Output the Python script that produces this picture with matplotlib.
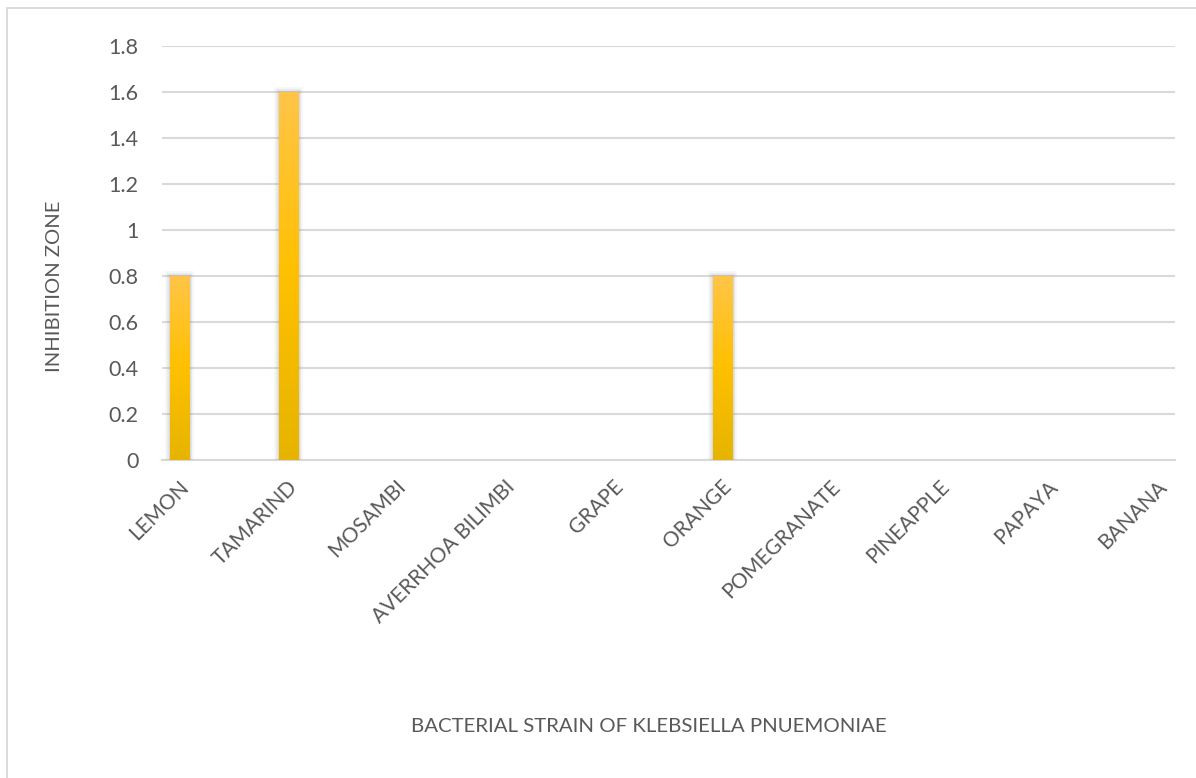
import numpy as np
import matplotlib
matplotlib.use("Agg")
import matplotlib.pyplot as plt
import matplotlib.patheffects as pe
import matplotlib.transforms as mtransforms
from matplotlib.patches import Rectangle

# Inhibition zone per fruit extract
fruits = ["LEMON", "TAMARIND", "MOSAMBI", "AVERRHOA BILIMBI", "GRAPE",
          "ORANGE", "POMEGRANATE", "PINEAPPLE", "PAPAYA", "BANANA"]
inhibition = [0.8, 1.6, 0, 0, 0, 0.8, 0, 0, 0, 0]
y_ticks = [0, 0.2, 0.4, 0.6, 0.8, 1, 1.2, 1.4, 1.6, 1.8]
y_tick_labels = ["0", "0.2", "0.4", "0.6", "0.8", "1", "1.2", "1.4", "1.6", "1.8"]

TEXT = "#595959"
GRID = "#D9D9D9"
plt.rcParams["font.family"] = ["Lato", "DejaVu Sans"]

W, H = 1196, 778
fig = plt.figure(figsize=(W / 100, H / 100), dpi=100)
fig.patch.set_facecolor("white")

# outer chart frame
fig.patches.append(Rectangle((7 / W, -0.1), 1.2, 1 - 8 / H + 0.1,
                             transform=fig.transFigure, fill=False,
                             edgecolor=GRID, linewidth=1.3))

ax = fig.add_axes([162 / W, 1 - 460 / H, 1013 / W, 414 / H])

x = np.arange(len(fruits))
bars = ax.bar(x, inhibition, width=0.175, color="#FFC000", zorder=3)

# vertical gradient fill with a soft drop shadow on each non-empty bar
cmap = matplotlib.colors.LinearSegmentedColormap.from_list(
    "gold", ["#E6B400", "#FFC000", "#FFC548"])
grad = np.linspace(0, 1, 256).reshape(-1, 1)
for b in bars:
    h = b.get_height()
    if h <= 0:
        continue
    b.set_path_effects([
        pe.SimplePatchShadow(offset=(0, -2.5), shadow_rgbFace="#808080", alpha=0.10),
        pe.Stroke(linewidth=7, foreground="#9a9a9a", alpha=0.07),
        pe.Stroke(linewidth=4.5, foreground="#8a8a8a", alpha=0.10),
        pe.Stroke(linewidth=2.5, foreground="#808080", alpha=0.16),
        pe.Normal(),
    ])
    im = ax.imshow(grad, cmap=cmap, aspect="auto", origin="lower",
                   extent=(b.get_x(), b.get_x() + b.get_width(), 0, h),
                   zorder=4, interpolation="bilinear")
    im.set_clip_path(b)
ax.set_xlim(-0.16, 9.16)
ax.set_ylim(0, 1.8)

ax.set_yticks(y_ticks)
ax.set_yticklabels(y_tick_labels)
ax.yaxis.grid(True, color=GRID, linewidth=1.5, zorder=0)
ax.set_axisbelow(True)
for s in ["top", "right", "left"]:
    ax.spines[s].set_visible(False)
ax.spines["bottom"].set_color(GRID)
ax.spines["bottom"].set_linewidth(1.5)
ax.tick_params(axis="y", length=0, pad=17, labelsize=15.5, labelcolor=TEXT)
ax.tick_params(axis="x", length=0, pad=17, labelsize=15, labelcolor=TEXT)

ax.set_xticks(x)
ax.set_xticklabels(fruits, rotation=45, ha="right", va="center",
                   rotation_mode="anchor")
shift = mtransforms.ScaledTranslation(6 / 100, 0, fig.dpi_scale_trans)
for lbl in ax.get_xticklabels():
    lbl.set_transform(lbl.get_transform() + shift)

fig.text(55 / W, 1 - 286 / H, "INHIBITION ZONE", rotation=90, ha="center",
         va="center", fontsize=14.6, color=TEXT)
fig.text(649 / W, 1 - 726 / H, "BACTERIAL STRAIN OF KLEBSIELLA PNUEMONIAE",
         ha="center", va="center", fontsize=14.7, color=TEXT)

fig.savefig("out.png", dpi=100)
